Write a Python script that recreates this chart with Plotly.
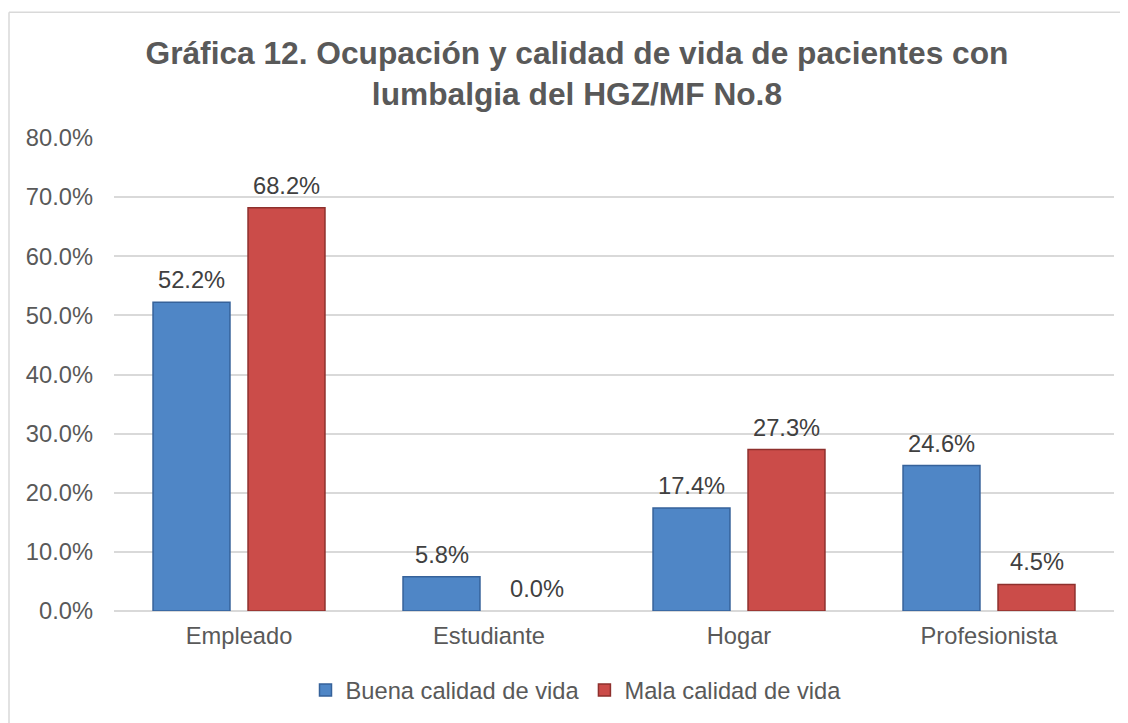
import plotly.graph_objects as go

categories = ["Empleado", "Estudiante", "Hogar", "Profesionista"]
buena = [52.2, 5.8, 17.4, 24.6]
mala = [68.2, 0.0, 27.3, 4.5]
series_names = ["Buena calidad de vida", "Mala calidad de vida"]
y_ticks = [0, 10, 20, 30, 40, 50, 60, 70, 80]
y_ticktext = [f"{v:.1f}%" for v in y_ticks]

FONT = "Arial, Liberation Sans, sans-serif"
FS = 23.7
BARGAP = 0.24
SLOT_PX = 1000 / len(categories) * (1 - BARGAP) / 2  # width of one bar slot in px


def edge_widths(vals):
    return [1.5 if v > 0 else 0 for v in vals]


fig = go.Figure()
fig.add_trace(go.Bar(
    x=categories, y=buena, name=series_names[0],
    marker=dict(color="#4F86C6", line=dict(color="#36629A", width=edge_widths(buena))),
))
fig.add_trace(go.Bar(
    x=categories, y=mala, name=series_names[1],
    marker=dict(color="#CB4C49", line=dict(color="#8E302D", width=edge_widths(mala))),
))

annotations = []
for j, vals in enumerate([buena, mala]):
    for cat, v in zip(categories, vals):
        annotations.append(dict(
            x=cat, y=v, xref="x", yref="y", showarrow=False,
            text=f"{v:.1f}%", xshift=(j - 0.5) * SLOT_PX, yshift=22,
            yanchor="middle", xanchor="center",
            font=dict(size=FS, color="#404040", family=FONT),
        ))

fig.update_layout(
    width=1120, height=715,
    paper_bgcolor="white", plot_bgcolor="white",
    margin=dict(l=106, r=14, t=130, b=111),
    font=dict(family=FONT, size=FS, color="#595959"),
    title=dict(
        text="<b>Gráfica 12. Ocupación y calidad de vida de pacientes con<br>lumbalgia del HGZ/MF No.8</b>",
        x=0.508, xanchor="center", y=0.922, yanchor="middle",
        font=dict(size=31.7, color="#595959", family=FONT),
    ),
    barmode="group", bargap=BARGAP, bargroupgap=0.19,
    showlegend=True,
    legend=dict(
        orientation="h", x=0.462, xanchor="center", y=-0.1646, yanchor="middle",
        font=dict(size=FS, color="#595959"), itemwidth=30, traceorder="normal",
    ),
    xaxis=dict(showgrid=False, showline=False, ticks="", ticklabelstandoff=8,
               tickfont=dict(size=FS, color="#595959")),
    yaxis=dict(range=[0, 80], tickvals=y_ticks, ticktext=y_ticktext,
               showgrid=True, gridcolor="#D9D9D9", gridwidth=1.5,
               zeroline=True, zerolinecolor="#D9D9D9", zerolinewidth=1.5,
               ticks="", ticklabelstandoff=20, showline=False,
               tickfont=dict(size=FS, color="#595959")),
    annotations=annotations,
    shapes=[
        dict(type="line", xref="paper", yref="paper", x0=-0.105, x1=-0.105, y0=-1, y1=1.2658,
             line=dict(color="#D9D9D9", width=1.5)),
        dict(type="line", xref="paper", yref="paper", x0=-0.105, x1=1.2, y0=1.2658, y1=1.2658,
             line=dict(color="#D9D9D9", width=1.5)),
    ],
)

fig.write_html("out.html")
